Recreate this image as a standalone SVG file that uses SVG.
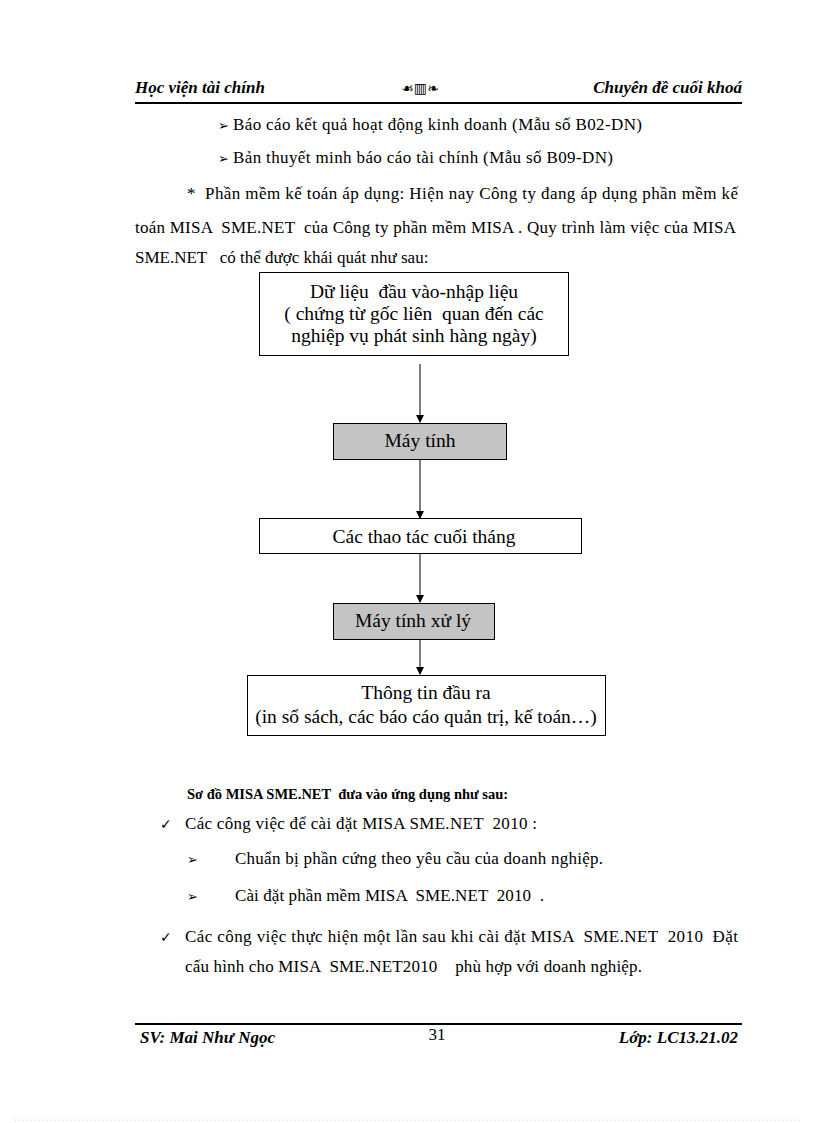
<svg xmlns="http://www.w3.org/2000/svg" width="816" height="1123" viewBox="0 0 816 1123">
<style>
text{font-family:"Liberation Serif","Times New Roman",serif;fill:#000;white-space:pre}
.b{font-size:17px}
.hd{font-size:17px;font-weight:bold;font-style:italic}
.nt{font-size:19.5px;text-anchor:middle}
.box{fill:#fff;stroke:#000;stroke-width:1}
.gray{fill:#c4c4c4;stroke:#000;stroke-width:1}
.con{stroke:#000;stroke-width:1;fill:none;marker-end:url(#ah)}
.sym{font-family:"DejaVu Sans",sans-serif}
</style>
<defs>
<marker id="ah" markerWidth="8" markerHeight="8" refX="7" refY="4" orient="auto" markerUnits="userSpaceOnUse">
<path d="M0,0 L8,4 L0,8 z" fill="#000"/>
</marker>
</defs>
<rect width="816" height="1123" fill="#fff"/>

<g id="header">
<text class="hd" x="135" y="93">Học viện tài chính</text>
<text x="420" y="93" class="sym" font-size="14" font-weight="bold" text-anchor="middle">☙▥❧</text>
<text class="hd" x="742" y="93" text-anchor="end">Chuyên đề cuối khoá</text>
<line x1="135" y1="103" x2="742" y2="103" stroke="#000" stroke-width="2"/>
</g>

<g id="intro">
<text x="218" y="130" class="sym" font-size="13">➢</text>
<text class="b" x="233" y="130" textLength="409" lengthAdjust="spacing" xml:space="preserve">Báo cáo kết quả hoạt động kinh doanh (Mẫu số B02-DN)</text>
<text x="218" y="163" class="sym" font-size="13">➢</text>
<text class="b" x="233" y="163" textLength="380" lengthAdjust="spacing" xml:space="preserve">Bản thuyết minh báo cáo tài chính (Mẫu số B09-DN)</text>
<text class="b" x="187" y="199">*</text>
<text class="b" x="205" y="199" textLength="533" lengthAdjust="spacing" xml:space="preserve">Phần mềm kế toán áp dụng: Hiện nay Công ty đang áp dụng phần mềm kế</text>
<text class="b" x="135" y="233" textLength="601" lengthAdjust="spacing" xml:space="preserve">toán MISA  SME.NET  của Công ty phần mềm MISA . Quy trình làm việc của MISA</text>
<text class="b" x="135" y="263" xml:space="preserve">SME.NET   có thể được khái quát như sau:</text>
</g>

<g id="connectors">
<line class="con" x1="420" y1="364" x2="420" y2="422"/>
<line class="con" x1="420" y1="459" x2="420" y2="518"/>
<line class="con" x1="420" y1="553" x2="420" y2="602"/>
<line class="con" x1="420" y1="639" x2="420" y2="674"/>
</g>

<g id="n1">
<rect class="box" x="259.5" y="272.5" width="309" height="83"/>
<text class="nt" x="414" y="298" xml:space="preserve">Dữ liệu  đầu vào-nhập liệu</text>
<text class="nt" x="414" y="320" xml:space="preserve">( chứng từ gốc liên  quan đến các</text>
<text class="nt" x="414" y="342">nghiệp vụ phát sinh hàng ngày)</text>
</g>
<g id="n2">
<rect class="gray" x="333.5" y="423.5" width="173" height="36"/>
<text class="nt" x="420" y="447">Máy tính</text>
</g>
<g id="n3">
<rect class="box" x="259.5" y="518.5" width="322" height="35"/>
<text class="nt" x="424" y="543">Các thao tác cuối tháng</text>
</g>
<g id="n4">
<rect class="gray" x="333.5" y="603.5" width="161" height="36"/>
<text class="nt" x="413" y="627">Máy tính xử lý</text>
</g>
<g id="n5">
<rect class="box" x="247.5" y="675.5" width="358" height="60"/>
<text class="nt" x="426" y="699">Thông tin đầu ra</text>
<text class="nt" x="426" y="723">(in sổ sách, các báo cáo quản trị, kế toán…)</text>
</g>

<g id="body2">
<text x="187" y="799" style="font-size:14.5px;font-weight:bold" xml:space="preserve">Sơ đồ MISA SME.NET  đưa vào ứng dụng như sau:</text>
<text x="160" y="829" class="sym" font-size="14">✓</text>
<text class="b" x="185" y="829" textLength="352" lengthAdjust="spacing" xml:space="preserve">Các công việc để cài đặt MISA SME.NET  2010 :</text>
<text x="187" y="864" class="sym" font-size="13">➢</text>
<text class="b" x="235" y="864" textLength="368" lengthAdjust="spacing" xml:space="preserve">Chuẩn bị phần cứng theo yêu cầu của doanh nghiệp.</text>
<text x="187" y="901" class="sym" font-size="13">➢</text>
<text class="b" x="235" y="901" textLength="309" lengthAdjust="spacing" xml:space="preserve">Cài đặt phần mềm MISA  SME.NET  2010  .</text>
<text x="160" y="942" class="sym" font-size="14">✓</text>
<text class="b" x="185" y="942" textLength="553" lengthAdjust="spacing" xml:space="preserve">Các công việc thực hiện một lần sau khi cài đặt MISA  SME.NET  2010  Đặt</text>
<text class="b" x="185" y="972" textLength="457" lengthAdjust="spacing" xml:space="preserve">cấu hình cho MISA  SME.NET2010    phù hợp với doanh nghiệp.</text>
</g>

<g id="footer">
<line x1="135" y1="1024" x2="742" y2="1024" stroke="#000" stroke-width="2"/>
<text class="hd" x="140" y="1043">SV: Mai Như Ngọc</text>
<text class="b" x="437" y="1040" text-anchor="middle">31</text>
<text class="hd" x="738" y="1043" text-anchor="end">Lớp: LC13.21.02</text>
<line x1="15" y1="1120" x2="800" y2="1120" stroke="#ccc" stroke-width="1" stroke-dasharray="1,3"/>
</g>
</svg>
